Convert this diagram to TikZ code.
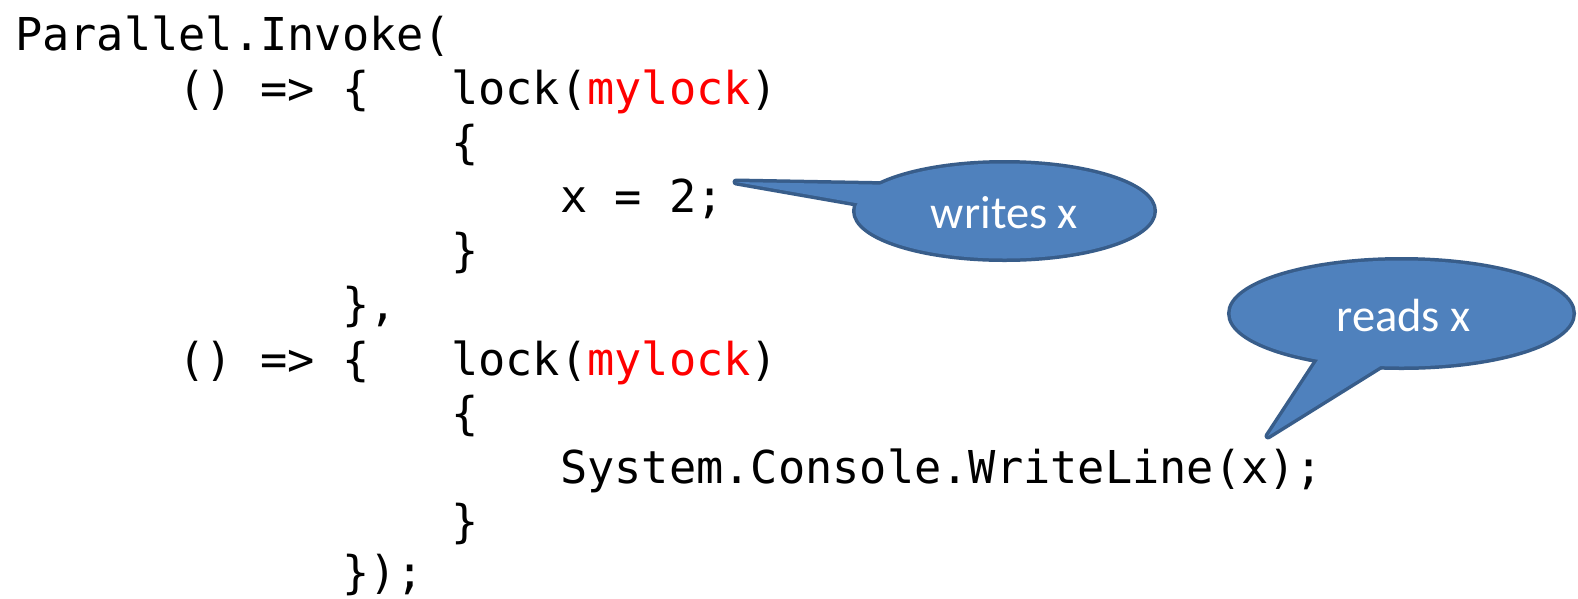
\documentclass[tikz,border=0pt]{standalone}
\usepackage{fontspec}
\setmonofont{DejaVu Sans Mono}
\newfontfamily\calloutfont{Carlito}
\usetikzlibrary{calc,shapes.geometric}
\definecolor{bubfill}{HTML}{4F81BD}
\definecolor{bubline}{HTML}{385D8A}
\definecolor{kwred}{HTML}{FF0000}
\tikzset{
  codeline/.style={anchor=base west, inner sep=0pt, outer sep=0pt,
    font=\ttfamily\fontsize{45.27}{54}\selectfont, text=black},
  bub/.style={ellipse, draw=bubline, line width=7pt, fill=bubfill, inner sep=0pt, outer sep=0pt},
  tailline/.style={draw=bubline, line width=7pt, line join=round, line cap=round},
  bubtext/.style={inner sep=0pt, text=white, font=\calloutfont\fontsize{46.5}{54}\selectfont}
}
\newcommand{\mylk}{\textcolor{kwred}{mylock}}
\begin{document}
\begin{tikzpicture}[x=1pt,y=-1pt]
\useasboundingbox[fill=white] (0,0) rectangle (1578,598);
% code
\node[codeline] (l1)  at (15+0*27.25,50)  {Parallel.Invoke(};
\node[codeline] (l2)  at (15+6*27.25,104) {()~=>~\{~~~lock(\mylk)};
\node[codeline] (l3)  at (15+16*27.25,158) {\{};
\node[codeline] (l4)  at (15+20*27.25,212) {x~=~2;};
\node[codeline] (l5)  at (15+16*27.25,266) {\}};
\node[codeline] (l6)  at (15+12*27.25,320) {\},};
\node[codeline] (l7)  at (15+6*27.25,375) {()~=>~\{~~~lock(\mylk)};
\node[codeline] (l8)  at (15+16*27.25,429) {\{};
\node[codeline] (l9)  at (15+20*27.25,483) {System.Console.WriteLine(x);};
\node[codeline] (l10) at (15+16*27.25,537) {\}};
\node[codeline] (l11) at (15+12*27.25,588) {\});};
% callout 1
\coordinate (tip1) at (736,182);
\node[bub, minimum width=298pt, minimum height=95pt] (w1) at (1004.5,211) {};
\coordinate (a1) at ($(tip1)!1.15!(w1.168)$);
\coordinate (b1) at ($(tip1)!1.12!(w1.177)$);
\draw[tailline] (a1) -- (tip1) -- (b1);
\fill[bubfill] (w1.center) ellipse [x radius=149pt, y radius=47.5pt];
\fill[bubfill] (a1) -- (tip1) -- (b1) -- cycle;
\node[bubtext] (t1) at ($(w1.center)+(0,2)$) {writes x};
% callout 2
\coordinate (tip2) at (1268,436);
\node[bub, minimum width=342pt, minimum height=106pt] (w2) at (1401.5,313.5) {};
\coordinate (a2) at ($(tip2)!1.2!(w2.209)$);
\coordinate (b2) at ($(tip2)!1.2!(w2.248)$);
\draw[tailline] (a2) -- (tip2) -- (b2);
\fill[bubfill] (w2.center) ellipse [x radius=171pt, y radius=53pt];
\fill[bubfill] (a2) -- (tip2) -- (b2) -- cycle;
\node[bubtext] (t2) at ($(w2.center)+(2,2)$) {reads x};
\end{tikzpicture}
\end{document}
